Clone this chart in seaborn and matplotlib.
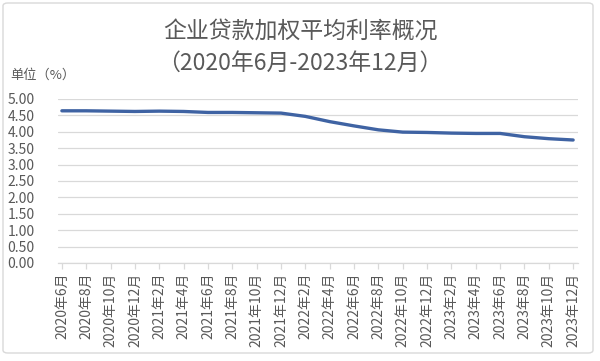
import pandas as pd
import matplotlib.pyplot as plt
import seaborn as sns
from matplotlib.patches import FancyBboxPatch

# DATA
months = ["2020年6月", "2020年8月", "2020年10月", "2020年12月",
          "2021年2月", "2021年4月", "2021年6月", "2021年8月",
          "2021年10月", "2021年12月", "2022年2月", "2022年4月",
          "2022年6月", "2022年8月", "2022年10月", "2022年12月",
          "2023年2月", "2023年4月", "2023年6月", "2023年8月",
          "2023年10月", "2023年12月"]
rates = [4.64, 4.64, 4.63, 4.62, 4.63, 4.62, 4.59, 4.59, 4.58, 4.57,
         4.47, 4.31, 4.18, 4.06, 3.99, 3.98, 3.96, 3.95, 3.95, 3.85,
         3.79, 3.75]
yticks = [0, 0.5, 1, 1.5, 2, 2.5, 3, 3.5, 4, 4.5, 5]

df = pd.DataFrame({"月份": months, "利率": rates})

sns.set_theme(style="white")
plt.rcParams['font.family'] = ['Noto Sans CJK SC', 'DejaVu Sans']

text_c = "#595959"
grid_c = "#d9d9d9"

fig = plt.figure(figsize=(6, 3.61), dpi=100)
ax = fig.add_axes([58 / 600, 1 - 263 / 361, 520 / 600, 164 / 361])

sns.lineplot(data=df, x="月份", y="利率", sort=False, ax=ax,
             color="#3f63a3", linewidth=2.4)

ax.set_ylim(0, 5)
ax.set_xlim(-0.16, 21.2)
ax.set_yticks(yticks)
ax.set_yticklabels([f"{v:.2f}" for v in yticks], color=text_c, fontsize=10)
ax.set_xticks(range(len(months)))
ax.set_xticklabels(months, rotation=90, color=text_c, fontsize=10)
ax.set_xlabel("")
ax.set_ylabel("")
ax.grid(axis="y", color=grid_c, linewidth=0.9)
ax.set_axisbelow(True)
for s in ["top", "right", "left"]:
    ax.spines[s].set_visible(False)
ax.spines["bottom"].set_color(grid_c)
ax.spines["bottom"].set_linewidth(0.9)
ax.tick_params(axis="x", length=4, color=grid_c, width=0.9, pad=3, bottom=True)
ax.tick_params(axis="y", length=0, pad=17)

# TITLE AND UNIT
fig.text(0.5, 1 - 32 / 361, "企业贷款加权平均利率概况", ha="center", va="center",
         fontsize=16.5, color=text_c)
fig.text(0.5, 1 - 63 / 361, "（2020年6月-2023年12月）", ha="center", va="center",
         fontsize=16.5, color=text_c)
fig.text(10 / 600, 1 - 75 / 361, "单位（%）", ha="left", va="center",
         fontsize=9.5, color=text_c)

# OUTER BORDER
border = FancyBboxPatch((3 / 600, 1 - 353 / 361), 590 / 600, 350 / 361,
                        boxstyle="round,pad=0,rounding_size=0.008",
                        transform=fig.transFigure, fill=False,
                        edgecolor=grid_c, linewidth=1)
fig.patches.append(border)

fig.savefig("out.png", dpi=100)
